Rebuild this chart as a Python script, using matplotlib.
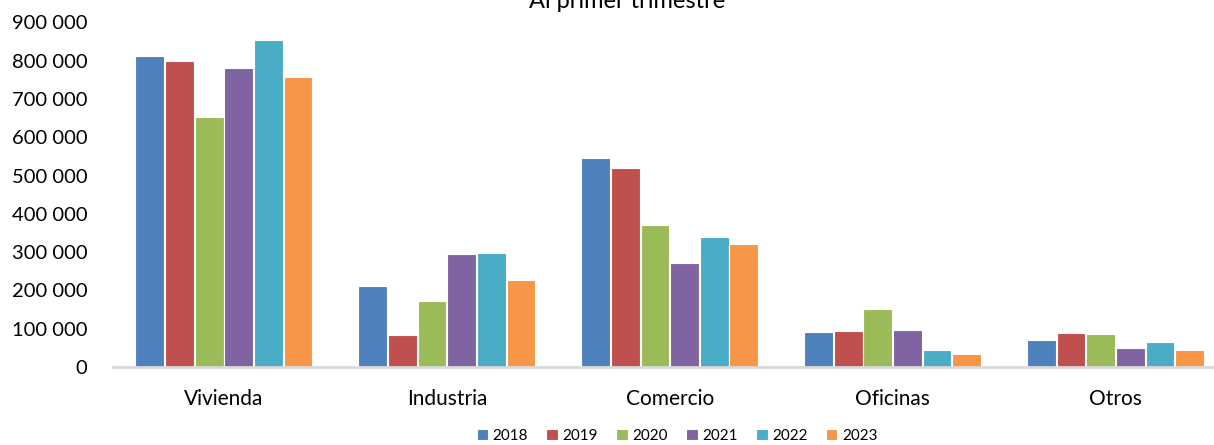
import matplotlib.pyplot as plt
import numpy as np

# values
categorias = ['Vivienda', 'Industria', 'Comercio', 'Oficinas', 'Otros']
anios = ['2018', '2019', '2020', '2021', '2022', '2023']
v2018 = [812000, 213000, 547000, 91000, 71000]
v2019 = [800000, 83000, 520000, 95000, 88000]
v2020 = [652000, 173000, 370000, 152000, 86000]
v2021 = [781000, 296000, 273000, 96000, 51000]
v2022 = [853000, 298000, 339000, 45000, 65000]
v2023 = [757000, 228000, 321000, 35000, 45000]
colores = ['#4F81BD', '#C0504D', '#9BBB59', '#8064A2', '#4BACC6', '#F79646']

plt.rcParams['font.family'] = ['Lato', 'DejaVu Sans']


def fmt_miles(v, pos=None):
    return '{:,.0f}'.format(v).replace(',', ' ')


def main():
    series = [v2018, v2019, v2020, v2021, v2022, v2023]
    fig = plt.figure(figsize=(12.14, 4.45), dpi=100)
    ax = fig.add_axes([0.0927, 0.175, 0.918, 0.775])

    x = np.arange(len(categorias))
    paso = 0.133
    for i, (vals, anio) in enumerate(zip(series, anios)):
        ax.bar(x + (i - 2.5) * paso, vals, width=paso * 0.97, color=colores[i],
               edgecolor='white', linewidth=0.8, label=anio)

    # axes:
    ax.set_xlim(-0.5, len(categorias) - 0.5)
    ax.set_ylim(0, 900000)
    ax.set_yticks(np.arange(0, 900001, 100000))
    ax.yaxis.set_major_formatter(plt.FuncFormatter(fmt_miles))
    ax.set_xticks(x)
    ax.set_xticklabels(categorias)
    ax.tick_params(axis='y', length=0, pad=18, labelsize=14.5, colors='#000000')
    ax.tick_params(axis='x', length=0, pad=16, labelsize=15, colors='#000000')
    for s in ['top', 'right', 'left']:
        ax.spines[s].set_visible(False)
    ax.spines['bottom'].set_color('#D9D9D9')
    ax.spines['bottom'].set_linewidth(2)

    fig.text(627 / 1214, 1 - 8 / 445, 'Al primer trimestre', ha='center',
             va='baseline', fontsize=17, color='#000000')

    fig.legend(loc='center', bbox_to_anchor=(677 / 1214, 1 - 436 / 445), ncol=6,
               frameon=False, fontsize=11, handlelength=0.75, handleheight=0.75,
               handletextpad=0.3, columnspacing=1.2, borderaxespad=0)

    fig.savefig('out.png', dpi=100)


if __name__ == "__main__":
    main()
